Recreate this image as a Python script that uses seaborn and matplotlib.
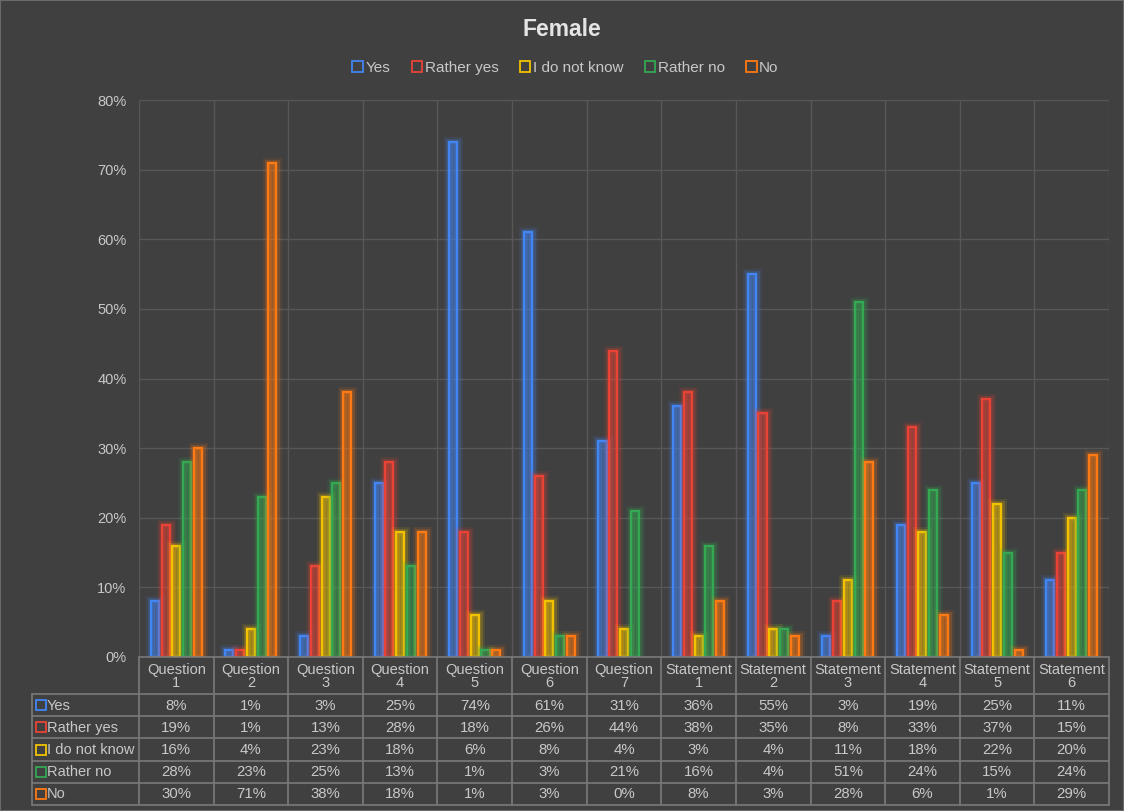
import numpy as np
import pandas as pd
import matplotlib
matplotlib.use("Agg")
import matplotlib.pyplot as plt
import matplotlib.patheffects as pe
from matplotlib.patches import Patch, Rectangle
from matplotlib.ticker import FuncFormatter, MultipleLocator
import seaborn as sns

# ---- data -------------------------------------------------------------
items = ["Question 1", "Question 2", "Question 3", "Question 4", "Question 5",
         "Question 6", "Question 7", "Statement 1", "Statement 2",
         "Statement 3", "Statement 4", "Statement 5", "Statement 6"]
answers = ["Yes", "Rather yes", "I do not know", "Rather no", "No"]

yes = [8, 1, 3, 25, 74, 61, 31, 36, 55, 3, 19, 25, 11]
rather_yes = [19, 1, 13, 28, 18, 26, 44, 38, 35, 8, 33, 37, 15]
dont_know = [16, 4, 23, 18, 6, 8, 4, 3, 4, 11, 18, 22, 20]
rather_no = [28, 23, 25, 13, 1, 3, 21, 16, 4, 51, 24, 15, 24]
no = [30, 71, 38, 18, 1, 3, 0, 8, 3, 28, 6, 1, 29]

series = [yes, rather_yes, dont_know, rather_no, no]
colors = ["#4285F4", "#EA4335", "#F2C200", "#34A853", "#FF7A12"]

df = pd.DataFrame({
    "item": np.repeat([items], len(answers), axis=0).ravel(),
    "answer": np.repeat(answers, len(items)),
    "pct": np.concatenate(series),
})

# ---- style ------------------------------------------------------------
BG = "#404040"
GRID = "#575757"
TEXT = "#C8C8C8"
BORDER = "#7A7A7A"

sns.set_theme(style="dark")
plt.rcParams["font.family"] = ["Liberation Sans", "DejaVu Sans"]

W, H = 1124, 811
fig = plt.figure(figsize=(W / 100, H / 100), dpi=100, facecolor=BG)

left_px, right_px, top_px, bottom_px = 139, 1109, 100, 657
ax = fig.add_axes([left_px / W, 1 - bottom_px / H,
                   (right_px - left_px) / W, (bottom_px - top_px) / H])
ax.set_facecolor(BG)

sns.barplot(data=df, x="item", y="pct", hue="answer", hue_order=answers,
            order=items, palette=colors, width=0.72, gap=0.25,
            ax=ax, legend=False, saturation=1)

for cont, col in zip(ax.containers, colors):
    for bar in cont:
        if bar.get_height() <= 0:
            bar.set_visible(False)
            continue
        bar.set_facecolor(matplotlib.colors.to_rgba(col, 0.2))
        bar.set_edgecolor(col)
        bar.set_linewidth(1.7)
        bar.set_path_effects([
            pe.Stroke(linewidth=8, foreground=col, alpha=0.10),
            pe.Stroke(linewidth=5, foreground=col, alpha=0.20),
            pe.Normal(),
        ])

ax.set_xlim(-0.5, len(items) - 0.5)
ax.set_ylim(0, 80)
ax.yaxis.set_major_locator(MultipleLocator(10))
ax.yaxis.set_major_formatter(FuncFormatter(lambda v, p: f"{v:.0f}%"))
ax.tick_params(axis="y", colors=TEXT, labelsize=10.5, length=0, pad=9)
ax.set_xticks(np.arange(-0.5, len(items), 1.0))
ax.set_xticklabels([])
ax.tick_params(axis="x", length=0)
ax.grid(True, axis="both", color=GRID, linewidth=1.0)
ax.set_axisbelow(True)
ax.set_xlabel("")
ax.set_ylabel("")
for s in ax.spines.values():
    s.set_visible(False)

# ---- data table under the plot --------------------------------------
table_top, table_bottom = 657, 805
label_left = 32
header_h = 37
tab = fig.add_axes([left_px / W, 1 - table_bottom / H,
                    (right_px - left_px) / W, (table_bottom - table_top) / H])
tab.set_xlim(ax.get_xlim())
tab.set_ylim(table_bottom - table_top, 0)
tab.axis("off")

row_h = (table_bottom - table_top - header_h) / len(answers)
group_px = (right_px - left_px) / len(items)
x_label_left = -0.5 - (left_px - label_left) / group_px
total_h = table_bottom - table_top

line_kw = dict(color=BORDER, linewidth=1.2, clip_on=False)
# column borders
for i in range(len(items) + 1):
    tab.plot([i - 0.5, i - 0.5], [0, total_h], **line_kw)
tab.plot([x_label_left, x_label_left], [header_h, total_h], **line_kw)
# row borders
tab.plot([-0.5, len(items) - 0.5], [0, 0], **line_kw)
for r in range(len(answers) + 1):
    y = header_h + r * row_h
    tab.plot([x_label_left, len(items) - 0.5], [y, y], **line_kw)

# header text
for i, name in enumerate(items):
    word, num = name.split(" ")
    tab.text(i, header_h / 2 + 1, f"{word}\n{num}", ha="center", va="center",
             color=TEXT, fontsize=10.5, linespacing=0.95)

# body rows
for r, (ans, vals, col) in enumerate(zip(answers, series, colors)):
    yc = header_h + (r + 0.5) * row_h
    tab.plot([x_label_left + 0.12], [yc], marker="s", markersize=6.5,
             markerfacecolor="none", markeredgecolor=col, markeredgewidth=1.3,
             clip_on=False)
    tab.text(x_label_left + 0.2, yc + 0.5, ans, ha="left", va="center",
             color=TEXT, fontsize=10.5)
    for i, v in enumerate(vals):
        tab.text(i, yc + 0.5, f"{v}%", ha="center", va="center",
                 color=TEXT, fontsize=10.8)

# ---- title and legend --------------------------------------------------
fig.text(0.5, 1 - 29 / H, "Female", ha="center", va="center",
         fontsize=16.5, fontweight="bold", color="#E4E4E4")

handles = [Patch(facecolor="none", edgecolor=c, linewidth=1.3, label=a)
           for a, c in zip(answers, colors)]
leg = fig.legend(handles=handles, loc="center", bbox_to_anchor=(0.503, 1 - 68 / H),
                 ncol=5, frameon=False, fontsize=11, handlelength=0.7,
                 handleheight=0.7, handletextpad=0.15, columnspacing=1.4)
for t in leg.get_texts():
    t.set_color(TEXT)

# thin outer frame
fig.patches.append(Rectangle((0, 0), 1, 1, transform=fig.transFigure,
                             fill=False, edgecolor="#6A6A6A", linewidth=1.5))

fig.savefig("out.png", dpi=100, facecolor=BG)
